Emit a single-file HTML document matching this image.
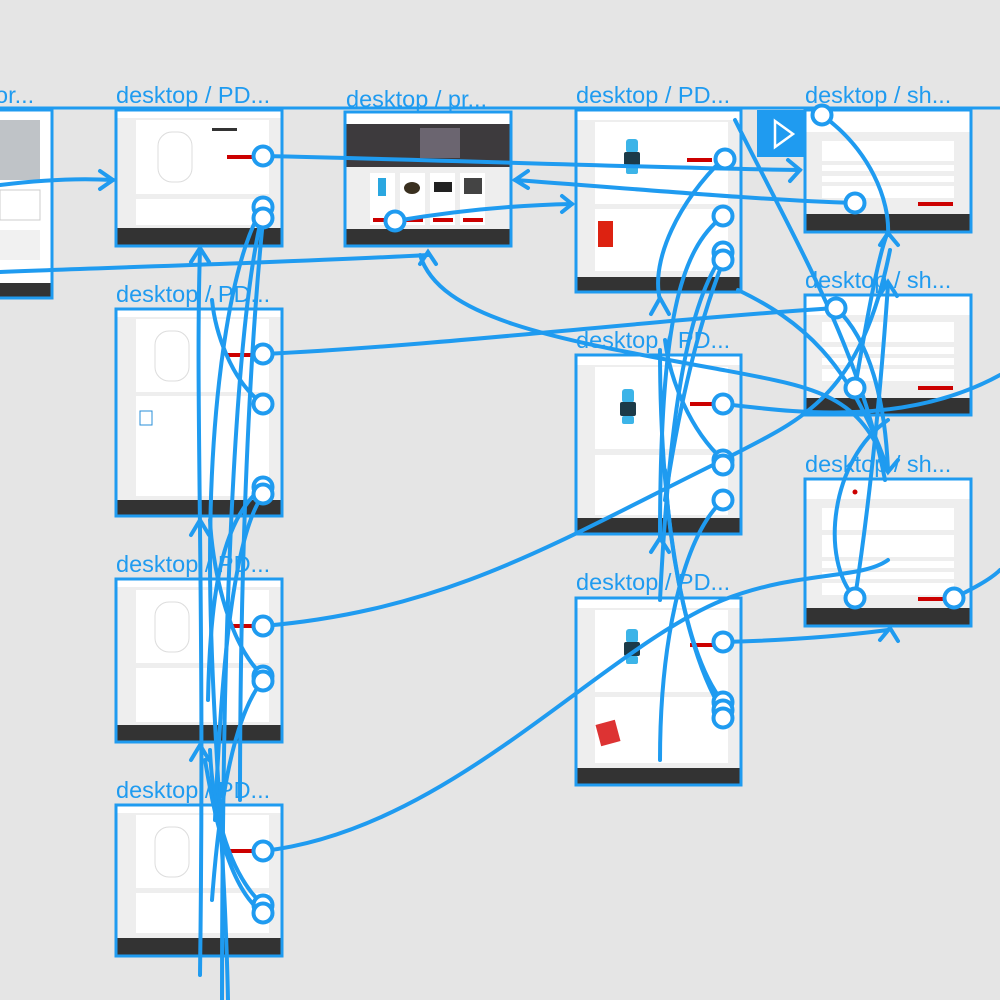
<!DOCTYPE html>
<html><head><meta charset="utf-8"><style>
html,body{margin:0;padding:0;background:#e5e5e5;width:1000px;height:1000px;overflow:hidden}
svg{display:block}
text.l{font-family:"Liberation Sans",sans-serif;font-size:23.5px;fill:#1f9bf0}
</style></head><body>
<svg width="1000" height="1000" viewBox="0 0 1000 1000" xmlns="http://www.w3.org/2000/svg">
<defs>
<g id="wimg"><rect x="-6" y="-16" width="12" height="14" rx="3" fill="#3cb4e8"/><rect x="-8" y="-3" width="16" height="14" rx="2" fill="#1c3a48"/><rect x="-6" y="11" width="12" height="8" rx="2" fill="#3cb4e8"/></g>
<g id="hub"><rect x="-17" y="-25" width="34" height="50" rx="14" fill="#fff" stroke="#ddd"/></g>
</defs>

<line x1="0" y1="108" x2="1000" y2="108" stroke="#1f9bf0" stroke-width="3"/>

<g>
<text class="l" x="-5" y="103">or...</text>
<text class="l" x="116" y="103">desktop / PD...</text>
<text class="l" x="346" y="107">desktop / pr...</text>
<text class="l" x="576" y="103">desktop / PD...</text>
<text class="l" x="805" y="103">desktop / sh...</text>
<text class="l" x="116" y="302">desktop / PD...</text>
<text class="l" x="805" y="288">desktop / sh...</text>
<text class="l" x="576" y="348">desktop / PD...</text>
<text class="l" x="805" y="472">desktop / sh...</text>
<text class="l" x="116" y="572">desktop / PD...</text>
<text class="l" x="576" y="590">desktop / PD...</text>
<text class="l" x="116" y="798">desktop / PD...</text>
</g>

<g stroke="none">
<rect x="-120" y="110" width="172" height="188" fill="#fff"/>
<rect x="-10" y="120" width="50" height="60" fill="#bfc3c7"/>
<rect x="0" y="190" width="40" height="30" fill="#fff" stroke="#ccc"/>
<rect x="0" y="230" width="40" height="30" fill="#f1f1f1"/>
<rect x="-120" y="283" width="172" height="15" fill="#333"/>

<rect x="116" y="110" width="166" height="136" fill="#eee"/>
<rect x="116" y="110" width="166" height="8" fill="#fff"/>
<rect x="136" y="120" width="133" height="74" fill="#fff"/>
<use href="#hub" x="175" y="157"/>
<rect x="227" y="155" width="32" height="4" fill="#c00"/>
<rect x="212" y="128" width="25" height="3" fill="#333"/>
<rect x="136" y="199" width="133" height="26" fill="#fff"/>
<rect x="116" y="228" width="166" height="18" fill="#333"/>

<rect x="345" y="112" width="166" height="134" fill="#eee"/>
<rect x="345" y="112" width="166" height="12" fill="#fff"/>
<rect x="345" y="124" width="166" height="43" fill="#3d3a3d"/>
<rect x="420" y="128" width="40" height="30" fill="#6b6570"/>
<rect x="370" y="173" width="25" height="52" fill="#fff"/><rect x="400" y="173" width="25" height="52" fill="#fff"/><rect x="430" y="173" width="25" height="52" fill="#fff"/><rect x="460" y="173" width="25" height="52" fill="#fff"/>
<rect x="378" y="178" width="8" height="18" fill="#2aa7e0"/><ellipse cx="412" cy="188" rx="8" ry="6" fill="#3a3020"/><rect x="434" y="182" width="18" height="10" fill="#222"/><rect x="464" y="178" width="18" height="16" fill="#444"/>
<rect x="373" y="218" width="20" height="4" fill="#c00"/><rect x="403" y="218" width="20" height="4" fill="#c00"/><rect x="433" y="218" width="20" height="4" fill="#c00"/><rect x="463" y="218" width="20" height="4" fill="#c00"/>
<rect x="345" y="229" width="166" height="17" fill="#333"/>

<rect x="576" y="110" width="165" height="182" fill="#eee"/>
<rect x="576" y="110" width="165" height="10" fill="#fff"/>
<rect x="595" y="122" width="133" height="82" fill="#fff"/>
<use href="#wimg" x="632" y="155"/>
<rect x="687" y="158" width="25" height="4" fill="#c00"/>
<rect x="595" y="209" width="133" height="62" fill="#fff"/>
<rect x="598" y="221" width="15" height="26" fill="#d21"/>
<rect x="576" y="277" width="165" height="15" fill="#333"/>

<rect x="805" y="110" width="166" height="122" fill="#eee"/>
<rect x="805" y="110" width="166" height="22" fill="#fff"/>
<rect x="822" y="141" width="132" height="20" fill="#fff"/>
<rect x="822" y="165" width="132" height="6" fill="#fff"/>
<rect x="822" y="176" width="132" height="6" fill="#fff"/>
<rect x="822" y="186" width="132" height="12" fill="#fff"/>
<rect x="918" y="202" width="35" height="4" fill="#c00"/>
<rect x="805" y="214" width="166" height="18" fill="#333"/>

<rect x="116" y="309" width="166" height="207" fill="#eee"/>
<rect x="116" y="309" width="166" height="8" fill="#fff"/>
<rect x="136" y="319" width="133" height="73" fill="#fff"/>
<use href="#hub" x="172" y="356"/>
<rect x="227" y="353" width="32" height="4" fill="#c00"/>
<rect x="136" y="396" width="133" height="100" fill="#fff"/>
<rect x="140" y="411" width="12" height="14" fill="none" stroke="#2a8fd8"/>
<rect x="116" y="500" width="166" height="16" fill="#333"/>

<rect x="805" y="295" width="166" height="120" fill="#eee"/>
<rect x="805" y="295" width="166" height="20" fill="#fff"/>
<rect x="822" y="322" width="132" height="20" fill="#fff"/>
<rect x="822" y="347" width="132" height="7" fill="#fff"/>
<rect x="822" y="358" width="132" height="7" fill="#fff"/>
<rect x="822" y="369" width="132" height="12" fill="#fff"/>
<rect x="918" y="386" width="35" height="4" fill="#c00"/>
<rect x="805" y="398" width="166" height="17" fill="#333"/>

<rect x="576" y="355" width="165" height="179" fill="#eee"/>
<rect x="576" y="355" width="165" height="10" fill="#fff"/>
<rect x="595" y="367" width="133" height="82" fill="#fff"/>
<use href="#wimg" x="628" y="405"/>
<rect x="690" y="402" width="25" height="4" fill="#c00"/>
<rect x="595" y="455" width="133" height="60" fill="#fff"/>
<rect x="576" y="518" width="165" height="16" fill="#333"/>

<rect x="805" y="479" width="166" height="147" fill="#eee"/>
<rect x="805" y="479" width="166" height="20" fill="#fff"/>
<circle cx="855" cy="492" r="2.5" fill="#c00"/>
<rect x="822" y="508" width="132" height="22" fill="#fff"/>
<rect x="822" y="535" width="132" height="22" fill="#fff"/>
<rect x="822" y="561" width="132" height="7" fill="#fff"/>
<rect x="822" y="572" width="132" height="7" fill="#fff"/>
<rect x="822" y="583" width="132" height="12" fill="#fff"/>
<rect x="918" y="597" width="35" height="4" fill="#c00"/>
<rect x="805" y="608" width="166" height="18" fill="#333"/>

<rect x="116" y="579" width="166" height="163" fill="#eee"/>
<rect x="116" y="579" width="166" height="8" fill="#fff"/>
<rect x="136" y="590" width="133" height="73" fill="#fff"/>
<use href="#hub" x="172" y="627"/>
<rect x="227" y="624" width="32" height="4" fill="#c00"/>
<rect x="136" y="668" width="133" height="54" fill="#fff"/>
<rect x="116" y="725" width="166" height="17" fill="#333"/>

<rect x="576" y="598" width="165" height="187" fill="#eee"/>
<rect x="576" y="598" width="165" height="10" fill="#fff"/>
<rect x="595" y="610" width="133" height="82" fill="#fff"/>
<use href="#wimg" x="632" y="645"/>
<rect x="690" y="643" width="25" height="4" fill="#c00"/>
<rect x="595" y="697" width="133" height="66" fill="#fff"/>
<rect x="598" y="722" width="20" height="22" fill="#d33" transform="rotate(-15 608 733)"/>
<rect x="576" y="768" width="165" height="17" fill="#333"/>

<rect x="116" y="805" width="166" height="151" fill="#eee"/>
<rect x="116" y="805" width="166" height="8" fill="#fff"/>
<rect x="136" y="815" width="133" height="73" fill="#fff"/>
<use href="#hub" x="172" y="852"/>
<rect x="227" y="849" width="32" height="4" fill="#c00"/>
<rect x="136" y="893" width="133" height="40" fill="#fff"/>
<rect x="116" y="938" width="166" height="18" fill="#333"/>
</g>

<g fill="none" stroke="#1f9bf0" stroke-width="3">
<rect x="-120" y="110" width="172" height="188"/>
<rect x="116" y="110" width="166" height="136"/>
<rect x="345" y="112" width="166" height="134"/>
<rect x="576" y="110" width="165" height="182"/>
<rect x="805" y="110" width="166" height="122"/>
<rect x="116" y="309" width="166" height="207"/>
<rect x="805" y="295" width="166" height="120"/>
<rect x="576" y="355" width="165" height="179"/>
<rect x="805" y="479" width="166" height="147"/>
<rect x="116" y="579" width="166" height="163"/>
<rect x="576" y="598" width="165" height="187"/>
<rect x="116" y="805" width="166" height="151"/>
</g>

<rect x="757" y="110" width="48" height="47" fill="#1f9bf0"/>
<path d="M775 121 L793 134 L775 147 Z" fill="none" stroke="#fff" stroke-width="2.5"/>

<g fill="none" stroke="#1f9bf0" stroke-width="4" stroke-linecap="round">
<path d="M0 185 C40 180 80 178 113 180"/>
<path d="M100 171 L113 180 L100 189"/>
<path d="M263 156 C450 160 650 168 800 170"/>
<path d="M788 160 L800 170 L790 181"/>
<path d="M0 272 C150 266 300 262 428 255"/>
<path d="M420 264 L428 252 L436 264"/>
<path d="M395 221 C460 210 520 205 572 204"/>
<path d="M562 196 L572 204 L562 212"/>
<path d="M855 203 C760 200 650 190 515 180"/>
<path d="M528 171 L515 180 L528 188"/>
<path d="M822 115 C870 150 890 200 888 235"/>
<path d="M880 245 L888 233 L898 245"/>
<path d="M200 250 C195 400 205 600 200 975"/>
<path d="M191 262 L200 248 L209 262"/>
<path d="M191 535 L200 520 L209 535"/>
<path d="M191 760 L200 745 L209 760"/>
<path d="M263 207 C230 260 210 400 210 560 C210 700 225 850 228 1000"/>
<path d="M263 212 C240 300 230 500 225 700 C222 850 222 950 222 1000"/>
<path d="M263 220 C250 350 240 550 240 800"/>
<path d="M263 404 C230 380 215 330 212 300"/>
<path d="M263 487 C220 520 210 600 208 700"/>
<path d="M263 495 C230 540 220 700 215 820"/>
<path d="M263 676 C225 640 212 560 210 520"/>
<path d="M263 680 C230 720 218 820 212 900"/>
<path d="M263 905 C225 870 212 800 210 750"/>
<path d="M263 913 C230 890 215 820 205 760"/>
<path d="M263 354 C450 345 650 320 836 308"/>
<path d="M263 626 C450 610 560 540 723 460 C800 420 860 400 890 250"/>
<path d="M263 851 C450 830 600 650 723 600 C800 570 860 580 888 560"/>
<path d="M420 255 C440 320 560 340 723 370 C820 388 860 395 888 470"/>
<path d="M723 159 C680 200 650 260 660 300"/>
<path d="M651 314 L660 298 L669 314"/>
<path d="M723 216 C680 250 660 320 660 540"/>
<path d="M723 255 C690 300 670 400 660 600"/>
<path d="M723 262 C700 320 680 400 665 500"/>
<path d="M651 552 L660 538 L669 552"/>
<path d="M723 404 C780 410 900 430 1000 375"/>
<path d="M723 460 C690 430 670 380 665 340"/>
<path d="M723 500 C680 540 660 650 660 760"/>
<path d="M723 642 C800 640 850 635 888 630"/>
<path d="M880 640 L890 628 L898 641"/>
<path d="M723 702 C680 650 660 500 660 350"/>
<path d="M723 712 C690 660 670 560 665 470"/>
<path d="M738 290 C800 320 850 360 888 470"/>
<path d="M880 460 L888 472 L898 460"/>
<path d="M836 308 C870 340 885 400 888 470"/>
<path d="M855 388 C870 300 880 250 888 232"/>
<path d="M855 598 C870 500 880 400 888 285"/>
<path d="M879 296 L888 282 L897 296"/>
<path d="M954 598 C970 590 990 580 1000 570"/>
<path d="M855 598 C820 560 830 460 888 420"/>
<path d="M735 120 C800 250 860 350 885 480"/>
</g>

<g fill="#fff" stroke="#1f9bf0" stroke-width="4">
<circle cx="263" cy="156" r="9.5"/><circle cx="263" cy="207" r="9.5"/><circle cx="263" cy="218" r="9.5"/>
<circle cx="395" cy="221" r="9.5"/>
<circle cx="725" cy="159" r="9.5"/><circle cx="723" cy="216" r="9.5"/><circle cx="723" cy="252" r="9.5"/><circle cx="723" cy="260" r="9.5"/>
<circle cx="822" cy="115" r="9.5"/><circle cx="855" cy="203" r="9.5"/>
<circle cx="263" cy="354" r="9.5"/><circle cx="263" cy="404" r="9.5"/><circle cx="263" cy="487" r="9.5"/><circle cx="263" cy="494" r="9.5"/>
<circle cx="263" cy="626" r="9.5"/><circle cx="263" cy="676" r="9.5"/><circle cx="263" cy="681" r="9.5"/>
<circle cx="263" cy="851" r="9.5"/><circle cx="263" cy="905" r="9.5"/><circle cx="263" cy="913" r="9.5"/>
<circle cx="836" cy="308" r="9.5"/><circle cx="855" cy="388" r="9.5"/>
<circle cx="723" cy="404" r="9.5"/><circle cx="723" cy="460" r="9.5"/><circle cx="723" cy="465" r="9.5"/><circle cx="723" cy="500" r="9.5"/>
<circle cx="723" cy="642" r="9.5"/><circle cx="723" cy="702" r="9.5"/><circle cx="723" cy="710" r="9.5"/><circle cx="723" cy="718" r="9.5"/>
<circle cx="855" cy="598" r="9.5"/><circle cx="954" cy="598" r="9.5"/>
</g>
</svg>
</body></html>
